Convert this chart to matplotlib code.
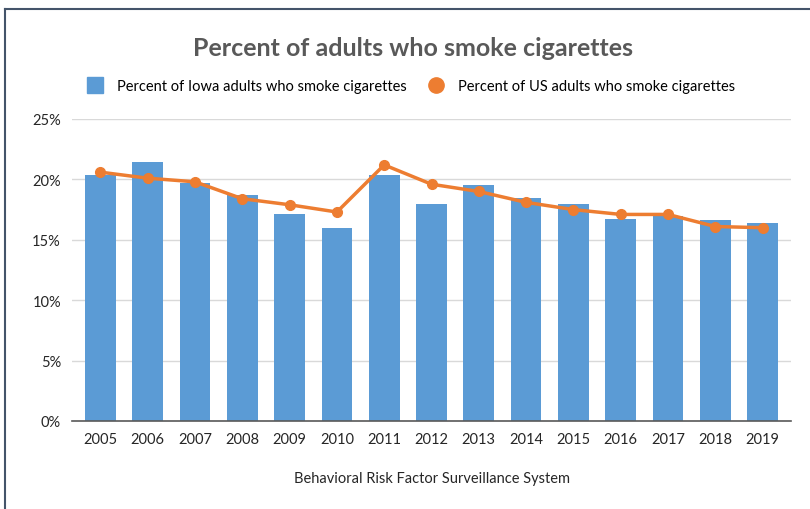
import matplotlib
matplotlib.use('Agg')
import matplotlib.pyplot as plt
from matplotlib.lines import Line2D
from matplotlib.ticker import FuncFormatter

plt.rcParams['font.family'] = ['Lato', 'DejaVu Sans']

years = ['2005', '2006', '2007', '2008', '2009', '2010', '2011', '2012',
         '2013', '2014', '2015', '2016', '2017', '2018', '2019']
iowa = [20.4, 21.4, 19.7, 18.7, 17.1, 16.0, 20.4, 18.0,
        19.5, 18.5, 18.0, 16.7, 17.0, 16.6, 16.4]
us = [20.6, 20.1, 19.8, 18.4, 17.9, 17.3, 21.2, 19.6,
      19.0, 18.1, 17.5, 17.1, 17.1, 16.1, 16.0]

blue = '#5b9bd5'
orange = '#ed7d31'
gray = '#595959'

fig = plt.figure(figsize=(8.1, 5.1), dpi=100)
ax = fig.add_axes([72 / 810, 1 - 422 / 510, (791 - 72) / 810, (422 - 120) / 510])

x = list(range(len(years)))
bars = ax.bar(x, iowa, width=0.65, color=blue, zorder=2,
              label='Percent of Iowa adults who smoke cigarettes')
line, = ax.plot(x, us, color=orange, linewidth=2.5, marker='o', markersize=7,
                zorder=3, label='Percent of US adults who smoke cigarettes')

ax.set_xlim(-0.6, 14.6)
ax.set_ylim(0, 25)
ax.set_yticks([0, 5, 10, 15, 20, 25])
ax.yaxis.set_major_formatter(FuncFormatter(lambda v, p: '%d%%' % v))
ax.set_xticks(x)
ax.set_xticklabels(years)
ax.grid(axis='y', color='#d9d9d9', linewidth=1, zorder=0)
for s in ['top', 'right', 'left']:
    ax.spines[s].set_visible(False)
ax.spines['bottom'].set_color('#595959')
ax.spines['bottom'].set_linewidth(1.2)
ax.tick_params(axis='both', length=0, labelsize=10.5, colors='#262626', pad=8)

ax.set_xlabel('Behavioral Risk Factor Surveillance System', fontsize=10.5,
              color='#262626', labelpad=18)

fig.text(413 / 810, 1 - 48 / 510, 'Percent of adults who smoke cigarettes',
         ha='center', va='center', fontsize=18, fontweight='bold', color=gray)

handles = [
    Line2D([], [], linestyle='none', marker='s', markersize=12, color=blue),
    Line2D([], [], linestyle='none', marker='o', markersize=11, color=orange),
]
fig.legend(handles, [bars.get_label(), line.get_label()], loc='center',
           bbox_to_anchor=(408 / 810, 1 - 87 / 510), ncol=2, frameon=False,
           fontsize=10.5, handletextpad=0.5, columnspacing=1.0)

# outer frame (only top and left are visible in the crop)
fig.add_artist(Line2D([5 / 810, 5 / 810], [0, 1 - 10 / 510],
                      transform=fig.transFigure, color='#44546a', linewidth=1.5))
fig.add_artist(Line2D([5 / 810, 1], [1 - 10 / 510, 1 - 10 / 510],
                      transform=fig.transFigure, color='#44546a', linewidth=1.5))

fig.savefig('out.png', dpi=100, facecolor='white')
